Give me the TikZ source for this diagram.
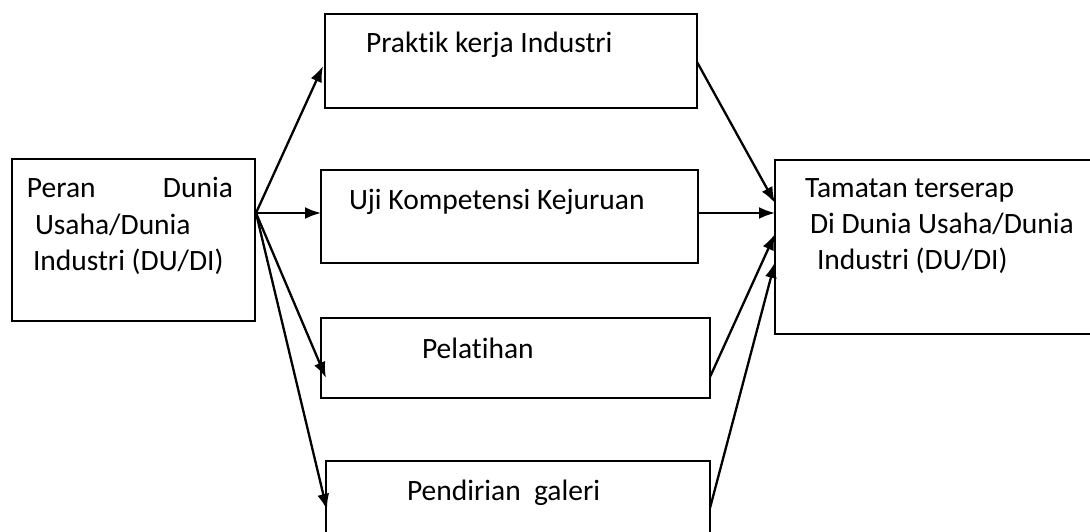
\documentclass[tikz,border=0pt]{standalone}
\usepackage{fontspec}
\setmainfont[Ligatures={NoCommon}]{Carlito}
\usetikzlibrary{arrows.meta}
\tikzset{
  box/.style={draw, line width=2.5pt, inner sep=0pt, outer sep=0pt, anchor=north west},
  txt/.style={inner sep=0pt, outer sep=0pt, anchor=base west, font=\fontsize{29.5}{35}\selectfont},
  conn/.style={line width=2.3pt, -{Latex[length=16pt,width=12pt]}}
}
\begin{document}
\begin{tikzpicture}[x=1pt,y=-1pt]
\useasboundingbox (0,0) rectangle (1090,532);
% boxes
\node[box, minimum width=243pt, minimum height=162pt] (L) at (12,159) {};
\node[box, minimum width=372pt, minimum height=94pt] (P1) at (325,14) {};
\node[box, minimum width=377pt, minimum height=93pt] (P2) at (321,170) {};
\node[box, minimum width=389pt, minimum height=80pt] (P3) at (321,318) {};
\node[box, minimum width=384pt, minimum height=110pt] (P4) at (326,461) {};
\node[box, minimum width=340pt, minimum height=174pt] (R) at (775,160) {};
% texts
\node[txt] (l1a) at (27,197) {Peran};
\node[txt, anchor=base east] (l1b) at (233,197) {Dunia};
\node[txt] (l2) at (35,234) {Usaha/Dunia};
\node[txt] (l3) at (33,270) {Industri (DU/DI)};
\node[txt] (t1) at (366,53) {Praktik kerja Industri};
\node[txt] (t2) at (349,209) {Uji Kompetensi Kejuruan};
\node[txt] (t3) at (422,358) {Pelatihan};
\node[txt] (t4) at (407,500) {Pendirian\ \ galeri};
\node[txt] (r1) at (805,197) {Tamatan terserap};
\node[txt] (r2) at (810,233) {Di Dunia Usaha/Dunia};
\node[txt] (r3) at (817,269) {Industri (DU/DI)};
% connector points
\coordinate (src) at (256,213);
\coordinate (in1) at (323,66);
\coordinate (in2) at (321,213);
\coordinate (in3) at (326,378);
\coordinate (in4) at (327,510);
\coordinate (o1) at (697,62);
\coordinate (o2) at (698,213);
\coordinate (o3) at (710,377);
\coordinate (o4) at (710,508);
\coordinate (e1) at (775,203);
\coordinate (e2) at (775,213);
\coordinate (e3) at (775,234);
\coordinate (e4) at (775,262);
% connectors
\draw[conn] (src) -- (in1);
\draw[conn] (src) -- (in2);
\draw[conn] (src) -- (in3);
\draw[conn] (src) -- (in4);
\draw[conn] (o1) -- (e1);
\draw[conn] (o2) -- (e2);
\draw[conn] (o3) -- (e3);
\draw[conn] (o4) -- (e4);
\end{tikzpicture}
\end{document}
